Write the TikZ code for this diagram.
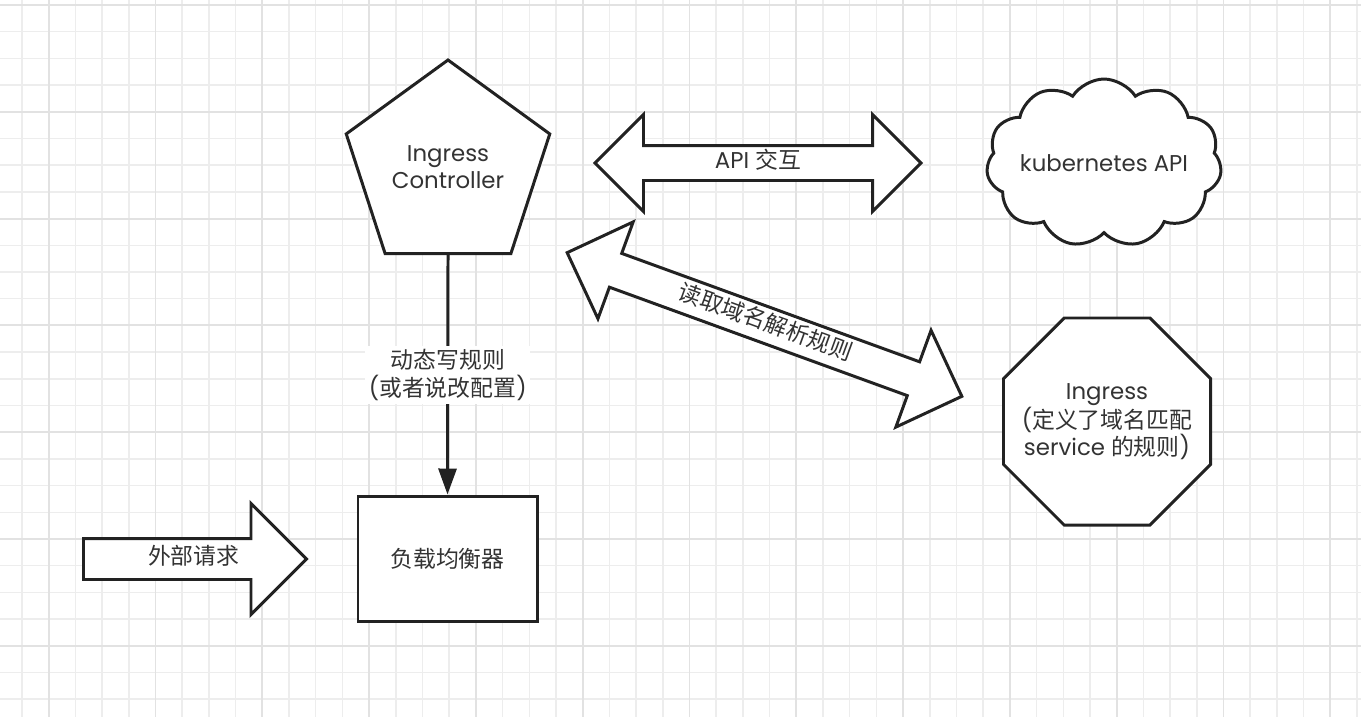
\documentclass[tikz,border=0pt]{standalone}
\usepackage{fontspec}
\setmainfont{Poppins}
\newfontfamily\cjk{Noto Sans CJK SC}
\usepackage{xcolor}
\usepackage{tikz}
\usetikzlibrary{positioning, shapes.geometric, shapes.arrows, shapes.symbols, arrows.meta}

\definecolor{gridminor}{HTML}{EDEDED}
\definecolor{gridmajor}{HTML}{E2E2E2}
\definecolor{inkgray}{HTML}{222222}
\definecolor{textgray}{HTML}{333333}
\newcommand{\zh}[1]{{\cjk #1}}
\newcommand{\labelsize}{\fontsize{13pt}{15.6pt}\selectfont}

\begin{document}
\begin{tikzpicture}[
          outline/.style={draw=inkgray, line width=1.7pt, fill=white, text=textgray, font=\labelsize, align=center},
          penta/.style={outline, regular polygon, regular polygon sides=5, minimum size=#1, inner sep=0pt},
          octa/.style={outline, regular polygon, regular polygon sides=8, minimum size=#1, inner sep=-6.8pt},
          plainbox/.style={outline, rectangle, minimum width=3.58cm, minimum height=2.5cm},
          cloudbox/.style={outline, cloud, cloud puffs=11, cloud puff arc=115, aspect=1.6, minimum width=4.5cm, minimum height=2.7cm, inner xsep=-3pt, inner ysep=-1pt},
          fatarrow/.style={outline, single arrow, text height=0.3cm, text depth=0.08cm, inner xsep=0pt},
          fatdarrow/.style={outline, double arrow, text height=0.3cm, text depth=0.08cm, inner xsep=0pt},
          flow/.style={-{Triangle[length=0.52cm, width=0.36cm]}, draw=inkgray, line width=1.7pt},
          lbl/.style={font=\labelsize, text=textgray, fill=white, align=center, inner sep=2pt}
        ]
        % paper grid
        \fill[white] (0,0) rectangle (27.22,-14.34);
        \useasboundingbox (0,0) rectangle (27.22,-14.34);
        \foreach \i in {0,...,50} \draw[gridminor, line width=0.9pt] (0.44+0.534*\i,0) -- (0.44+0.534*\i,-14.34);
        \foreach \j in {0,...,26} \draw[gridminor, line width=0.9pt] (0,-0.1-0.534*\j) -- (27.22,-0.1-0.534*\j);
        \foreach \i in {1,5,...,49} \draw[gridmajor, line width=1.1pt] (0.44+0.534*\i,0) -- (0.44+0.534*\i,-14.34);
        \foreach \j in {0,4,...,24} \draw[gridmajor, line width=1.1pt] (0,-0.1-0.534*\j) -- (27.22,-0.1-0.534*\j);

        \node[penta=4.28cm] (ctrl) at (8.96, -3.34) {Ingress\\Controller};
        \node[plainbox] (lb) at (8.95, -11.17) {\zh{负载均衡器}};
        \node[fatarrow, anchor=tail, minimum height=4.46cm, inner ysep=0.19cm, single arrow head extend=0.7cm] (req) at (1.64, -11.18) {\hspace*{0.36cm}\zh{外部请求}};
        \node[fatdarrow, minimum height=6.52cm, inner ysep=0.13cm, double arrow head extend=0.62cm] (apiarrow) at (15.16, -3.26) {API \zh{交互}};
        \node[fatdarrow, rotate=-20, minimum height=8.4cm, inner ysep=0.14cm, double arrow head extend=0.67cm] (readarrow) at (15.29, -6.49) {\zh{读取域名解析规则}};
        \node[cloudbox] (k8s) at (22.08, -3.26) {kubernetes API};
        \node[octa=4cm] (ingress) at (22.14, -8.43) {Ingress\\(\zh{定义了域名匹配}\\service \zh{的规则})};

        \draw[flow] (ctrl.south) -- node[lbl] {\zh{动态写规则}\\(\zh{或者说改配置})} (lb.north);
        \end{tikzpicture}
\end{document}
